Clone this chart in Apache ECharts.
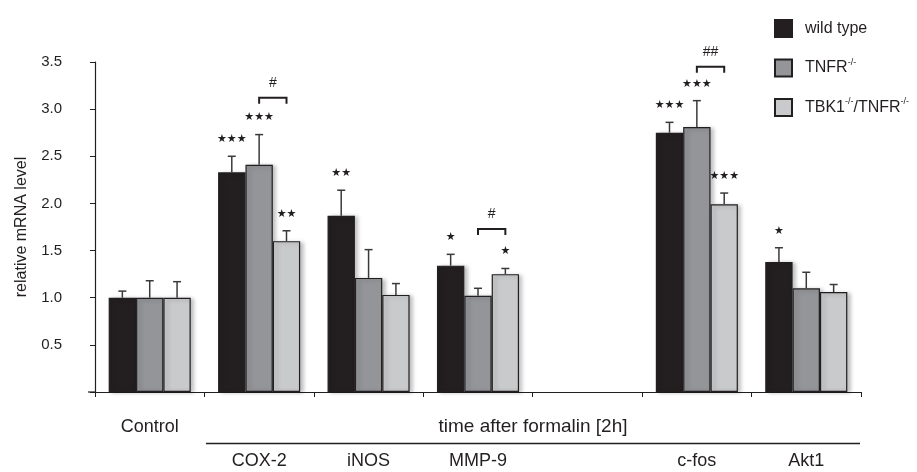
<!DOCTYPE html>
<html>
<head>
<meta charset="utf-8">
<title>relative mRNA level</title>
<script src="https://cdn.jsdelivr.net/npm/echarts@6/dist/echarts.min.js"></script>
<style>
  html, body { margin: 0; padding: 0; background: #fff; }
  #main { width: 917px; height: 472px; }
</style>
</head>
<body>
<div id="main"></div>
<script type="text/javascript">
// data
var categories = ['Control', 'COX-2', 'iNOS', 'MMP-9', '', 'c-fos', 'Akt1'];
var wildType    = [1.00, 2.33, 1.87, 1.34, null, 2.75, 1.38];
var wildTypeErr = [0.07, 0.17, 0.27, 0.12, null, 0.11, 0.15];
var tnfr        = [1.00, 2.41, 1.21, 1.02, null, 2.81, 1.10];
var tnfrErr     = [0.18, 0.32, 0.30, 0.08, null, 0.28, 0.17];
var tbk1        = [1.00, 1.60, 1.03, 1.25, null, 1.99, 1.06];
var tbk1Err     = [0.17, 0.11, 0.12, 0.06, null, 0.12, 0.08];
var wildTypeSig = ['', '***', '**', '*', '', '***', '*'];
var tnfrSig     = ['', '***', '', '', '', '***', ''];
var tbk1Sig     = ['', '**', '', '*', '', '***', ''];
// brackets between TNFR and TBK1 bars
var bracketCats   = [1, 3, 5];
var bracketLevels = [3.12, 1.73, 3.45];
var bracketLabels = ['#', '#', '##'];

var seriesNames = ['wild type', 'TNFR', 'TBK1/TNFR'];
var colors = ['#231f20', '#939598', '#c9cacc'];
var ink = '#231f20';

function errData(vals, errs, sig) {
    var out = [];
    for (var i = 0; i < vals.length; i++) {
        if (vals[i] == null) continue;
        out.push([i, vals[i], vals[i] + errs[i], sig[i].replace(/\*/g, '\u2605')]);
    }
    return out;
}

function errSeries(k, data) {
    return {
        type: 'custom',
        name: 'err' + k,
        z: 5,
        data: data,
        encode: { x: 0, y: 2 },
        renderItem: function (params, api) {
            var band = api.size([1, 0])[0];
            var off = (k - 1) * band * 0.25;
            var base = api.coord([api.value(0), api.value(1)]);
            var top = api.coord([api.value(0), api.value(2)]);
            var x = base[0] + off;
            var ch = [
                { type: 'line', shape: { x1: x, y1: base[1], x2: x, y2: top[1] },
                  style: { stroke: '#3a3a3a', lineWidth: 1.5 } },
                { type: 'line', shape: { x1: x - 4, y1: top[1], x2: x + 4, y2: top[1] },
                  style: { stroke: '#3a3a3a', lineWidth: 1.5 } }
            ];
            var s = api.value(3);
            if (s) {
                ch.push({ type: 'text', x: x, y: top[1] - 17,
                    style: { text: s, fill: ink, font: '11px "DejaVu Sans"',
                             align: 'center', verticalAlign: 'middle' } });
            }
            return { type: 'group', children: ch };
        }
    };
}

var bracketData = [];
for (var b = 0; b < bracketCats.length; b++) {
    bracketData.push([bracketCats[b], bracketLevels[b], bracketLabels[b]]);
}

var myChart = echarts.init(document.getElementById('main'));
var option = {
    animation: false,
    grid: { left: 95, right: 56, top: 62, bottom: 80, containLabel: false, outerBoundsMode: 'none' },
    legend: {
        data: seriesNames,
        orient: 'vertical',
        left: 769,
        top: 14,
        itemWidth: 17,
        itemHeight: 17,
        itemGap: 20,
        icon: 'rect',
        formatter: function (name) {
            if (name === 'TNFR') return '{n|TNFR}{s|-/-}';
            if (name === 'TBK1/TNFR') return '{n|TBK1}{s|-/-}{n|/TNFR}{s|-/-}';
            return '{n|' + name + '}';
        },
        textStyle: {
            padding: [0, 0, 0, 8],
            rich: {
                n: { fontSize: 16, color: ink, fontFamily: 'Liberation Sans', lineHeight: 20 },
                s: { fontSize: 9, color: ink, fontFamily: 'Liberation Sans', lineHeight: 9, verticalAlign: 'top' }
            }
        }
    },
    xAxis: {
        type: 'category',
        data: categories,
        axisLine: { lineStyle: { color: ink, width: 1.2 } },
        axisTick: { show: true, length: 5, interval: 0, lineStyle: { color: ink } },
        axisLabel: {
            interval: 0,
            margin: 18,
            fontSize: 18,
            lineHeight: 34,
            color: ink,
            fontFamily: 'Liberation Sans',
            formatter: function (v) {
                return v === 'Control' ? 'Control\n ' : ' \n' + v;
            }
        }
    },
    yAxis: {
        type: 'value',
        min: 0,
        max: 3.5,
        interval: 0.5,
        name: 'relative mRNA level',
        nameLocation: 'middle',
        nameGap: 65,
        nameTextStyle: { fontSize: 16, color: ink, fontFamily: 'Liberation Sans' },
        splitLine: { show: false },
        axisLine: { show: true, lineStyle: { color: ink, width: 1.2 } },
        axisTick: { show: true, length: 5, lineStyle: { color: ink } },
        axisLabel: {
            margin: 33,
            fontSize: 15,
            color: ink,
            fontFamily: 'Liberation Sans',
            formatter: function (v) { return v === 0 ? '' : v.toFixed(1); }
        }
    },
    series: [
        { name: seriesNames[0], type: 'bar', data: wildType },
        { name: seriesNames[1], type: 'bar', data: tnfr },
        { name: seriesNames[2], type: 'bar', data: tbk1 },
        errSeries(0, errData(wildType, wildTypeErr, wildTypeSig)),
        errSeries(1, errData(tnfr, tnfrErr, tnfrSig)),
        errSeries(2, errData(tbk1, tbk1Err, tbk1Sig)),
        {
            type: 'custom',
            name: 'brackets',
            z: 6,
            data: bracketData,
            encode: { x: 0, y: 1 },
            renderItem: function (params, api) {
                var band = api.size([1, 0])[0];
                var p = api.coord([api.value(0), api.value(1)]);
                var x1 = p[0], x2 = p[0] + band * 0.25, y = p[1];
                return { type: 'group', children: [
                    { type: 'polyline', shape: { points: [[x1, y + 6], [x1, y], [x2, y], [x2, y + 6]] },
                      style: { stroke: ink, lineWidth: 2, fill: null } },
                    { type: 'text', x: (x1 + x2) / 2, y: y - 15,
                      style: { text: api.value(2), fill: ink, font: '14px "Liberation Sans"',
                               align: 'center', verticalAlign: 'middle' } }
                ] };
            }
        }
    ],
    graphic: [
        { type: 'line', shape: { x1: 88, y1: 392, x2: 95, y2: 392 }, style: { stroke: ink, lineWidth: 1.2 } },
        { type: 'line', shape: { x1: 206, y1: 443.5, x2: 860, y2: 443.5 }, style: { stroke: ink, lineWidth: 1.5 } },
        { type: 'text', x: 533, y: 427,
          style: { text: 'time after formalin [2h]', fill: ink, font: '19px "Liberation Sans"',
                   align: 'center', verticalAlign: 'middle' } }
    ]
};
for (var i = 0; i < 3; i++) {
    option.series[i].barGap = '0%';
    option.series[i].barCategoryGap = '25%';
    option.series[i].itemStyle = {
        color: colors[i],
        borderColor: ink,
        borderWidth: 1.2,
        shadowBlur: 4,
        shadowOffsetX: 3,
        shadowOffsetY: 1,
        shadowColor: 'rgba(0,0,0,0.25)'
    };
}
myChart.setOption(option);
</script>
</body>
</html>
